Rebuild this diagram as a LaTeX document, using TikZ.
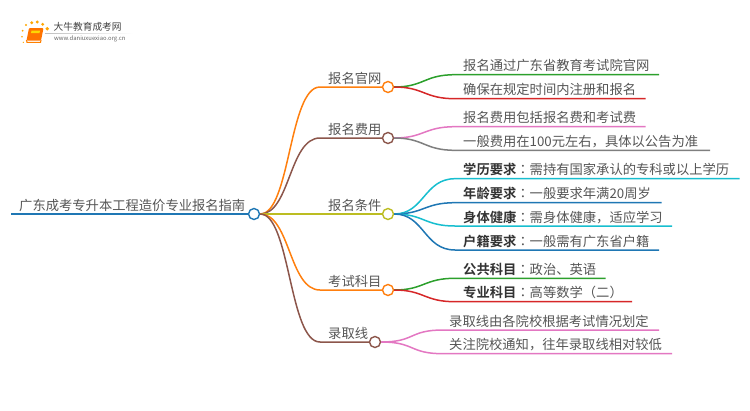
\documentclass[tikz,border=0pt]{standalone}
\usepackage{fontspec}
\setmainfont{Noto Sans CJK SC}[BoldFont={Noto Sans CJK SC Bold}]
\newfontfamily\jpcolon{Noto Sans CJK JP}
\definecolor{mdorange}{HTML}{FF7F0E}
\definecolor{mdbrown}{HTML}{8C564B}
\definecolor{mdolive}{HTML}{BCBD22}
\definecolor{mdgreen}{HTML}{2CA02C}
\definecolor{mdred}{HTML}{D62728}
\definecolor{mdpink}{HTML}{E377C2}
\definecolor{mdgray}{HTML}{7F7F7F}
\definecolor{mdcyan}{HTML}{17BECF}
\definecolor{mdblue}{HTML}{1F77B4}
\definecolor{mdtext}{HTML}{555555}
\newcommand{\keyname}[1]{{\color{black!80}\textbf{#1}}{\jpcolon ：}}
\tikzset{
  dot/.style={circle, draw=#1, fill=white, line width=1.4pt, minimum size=11pt, inner sep=0pt},
  link/.style={draw=#1, line width=1.5pt},
  tip/.style={font=\fontsize{13.3}{16}\selectfont, text=mdtext, inner sep=0pt, anchor=base west}
}
\begin{document}
\begin{tikzpicture}[x=1pt,y=-1pt]
\useasboundingbox (0,0) rectangle (750,410);
% Logo
\fill[orange!90!red, rounded corners=1pt] (29,28) -- (43.5,28) -- (41,40.5) -- (26.5,40.5) -- cycle;
\fill[yellow!75!orange] (31.5,30.5) -- (40,30.5) -- (39.5,33) -- (31,33) -- cycle;
\draw[orange, line width=1.1pt] (26.5,40) -- (27,42.3) -- (40.5,42.3) -- (41,40);
\foreach \px/\py/\pr in {26/25/1.2, 31.7/22.7/1.6, 37.3/22/1.6, 42.7/24.3/1.6, 47.3/28.7/1.9, 22.7/30.7/1, 22/36.7/.9, 23.3/42.3/.7}
  \fill[orange!70!yellow] (\px,\py) circle (\pr);
\node[font=\fontsize{9.7}{11}\selectfont, text=black!75, inner sep=0pt, anchor=base west] (logoname) at (53.5,30.5) {大牛教育成考网};
\fill[left color=black!25, right color=white] (45,33) rectangle (133,33.6);
\node[font=\fontsize{5.9}{7}\selectfont, text=black!60, inner sep=0pt, anchor=base west] (logourl) at (54,40.5) {www.daniuxuexiao.org.cn};
% Root
\coordinate (rootstart) at (11,214);
\node[dot=mdblue] (root) at (254,214) {};
\draw[link=mdblue] (rootstart) -- (root);
\node[tip] (roottext) at (19,210) {广东成考专升本工程造价专业报名指南};
% Branch dots
\node[dot=mdorange] (site) at (388,87) {};
\node[dot=mdbrown] (fee) at (388,138) {};
\node[dot=mdolive] (cond) at (388,214) {};
\node[dot=mdorange] (exam) at (388,290) {};
\node[dot=mdbrown] (line) at (375,342) {};
\coordinate (sitein) at (320,87);
\coordinate (feein) at (320,138);
\coordinate (examin) at (320,290);
\coordinate (linein) at (320,342);
% Branches
\draw[link=mdorange] (root.east) .. controls +(30,0) and +(-31,0) .. (sitein) -- (site.west);
\draw[link=mdbrown] (root.east) .. controls +(30,0) and +(-31,0) .. (feein) -- (fee.west);
\draw[link=mdolive] (root) -- (cond);
\draw[link=mdorange] (root.east) .. controls +(30,0) and +(-31,0) .. (examin) -- (exam.west);
\draw[link=mdbrown] (root.east) .. controls +(30,0) and +(-31,0) .. (linein) -- (line.west);
\node[tip] (sitetext) at (328,83) {报名官网};
\node[tip] (feetext) at (328,134) {报名费用};
\node[tip] (condtext) at (328,210) {报名条件};
\node[tip] (examtext) at (328,286) {考试科目};
\node[tip] (linetext) at (328,338) {录取线};
% Leaf ends
\coordinate (a1) at (455,74.7); \coordinate (a2) at (659,74.7);
\coordinate (b1) at (455,98.7); \coordinate (b2) at (645.7,98.7);
\coordinate (c1) at (455,126.7); \coordinate (c2) at (645.7,126.7);
\coordinate (d1) at (455,150.3); \coordinate (d2) at (710,150.3);
\coordinate (e1) at (455,178.7); \coordinate (e2) at (739.7,178.7);
\coordinate (f1) at (455,202.7); \coordinate (f2) at (661.7,202.7);
\coordinate (g1) at (455,226); \coordinate (g2) at (672,226);
\coordinate (h1) at (455,250); \coordinate (h2) at (659,250);
\coordinate (i1) at (455,278.3); \coordinate (i2) at (605.7,278.3);
\coordinate (j1) at (455,301.7); \coordinate (j2) at (632,301.7);
\coordinate (k1) at (443,330); \coordinate (k2) at (659,330);
\coordinate (m1) at (443,353.7); \coordinate (m2) at (672,353.7);
% Leaves
\draw[link=mdgreen] (site.east) .. controls +(30,0) and +(-31,0) .. (a1) -- (a2);
\draw[link=mdred] (site.east) .. controls +(30,0) and +(-31,0) .. (b1) -- (b2);
\draw[link=mdpink] (fee.east) .. controls +(30,0) and +(-31,0) .. (c1) -- (c2);
\draw[link=mdgray] (fee.east) .. controls +(30,0) and +(-31,0) .. (d1) -- (d2);
\draw[link=mdcyan] (cond.east) .. controls +(30,0) and +(-31,0) .. (e1) -- (e2);
\draw[link=mdblue] (cond.east) .. controls +(30,0) and +(-31,0) .. (f1) -- (f2);
\draw[link=mdcyan] (cond.east) .. controls +(30,0) and +(-31,0) .. (g1) -- (g2);
\draw[link=mdblue] (cond.east) .. controls +(30,0) and +(-31,0) .. (h1) -- (h2);
\draw[link=mdgreen] (exam.east) .. controls +(30,0) and +(-31,0) .. (i1) -- (i2);
\draw[link=mdred] (exam.east) .. controls +(30,0) and +(-31,0) .. (j1) -- (j2);
\draw[link=mdpink] (line.east) .. controls +(34,0) and +(-34,0) .. (k1) -- (k2);
\draw[link=mdpink] (line.east) .. controls +(34,0) and +(-34,0) .. (m1) -- (m2);
\node[tip] (atext) at (463,70.5) {报名通过广东省教育考试院官网};
\node[tip] (btext) at (463,94.5) {确保在规定时间内注册和报名};
\node[tip] (ctext) at (463,122.5) {报名费用包括报名费和考试费};
\node[tip] (dtext) at (463,146) {一般费用在100元左右，具体以公告为准};
\node[tip] (etext) at (463,174.5) {\keyname{学历要求}需持有国家承认的专科或以上学历};
\node[tip] (ftext) at (463,198.5) {\keyname{年龄要求}一般要求年满20周岁};
\node[tip] (gtext) at (463,222) {\keyname{身体健康}需身体健康，适应学习};
\node[tip] (htext) at (463,246) {\keyname{户籍要求}一般需有广东省户籍};
\node[tip] (itext) at (463,274) {\keyname{公共科目}政治、英语};
\node[tip] (jtext) at (463,297.5) {\keyname{专业科目}高等数学（二）};
\node[tip] (ktext) at (449,326) {录取线由各院校根据考试情况划定};
\node[tip] (mtext) at (449,349.5) {关注院校通知，往年录取线相对较低};
\end{tikzpicture}
\end{document}
